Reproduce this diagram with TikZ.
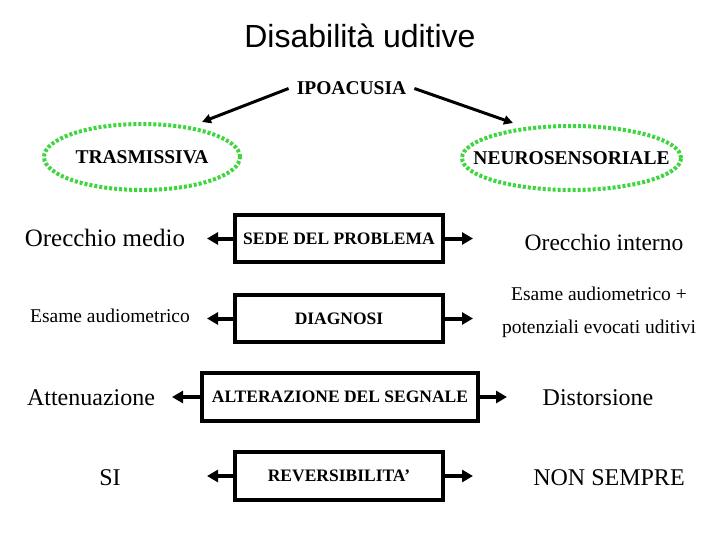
\documentclass[tikz,border=0pt]{standalone}
\usepackage{fontspec}
\setmainfont{Liberation Serif}
\newfontfamily\arialfont{Liberation Sans}
\usetikzlibrary{arrows.meta,shapes.geometric}
\definecolor{dotgreen}{RGB}{60,215,60}
\tikzset{
  box/.style={draw=black, line width=4pt, inner sep=0pt, font=\fontsize{17.5}{20}\selectfont\bfseries},
  oval/.style={ellipse, draw=dotgreen, line width=4pt, dash pattern=on 3pt off 2pt, inner sep=0pt},
  ovaltext/.style={inner sep=0pt, font=\fontsize{19.5}{22}\selectfont\bfseries},
  arr/.style={line width=4pt, -{Triangle[length=11pt,width=12pt]}},
  toparr/.style={line width=3pt, -{Triangle[length=9pt,width=9pt]}},
  big/.style={anchor=base, inner sep=0pt, font=\fontsize{24}{28}\selectfont},
  small/.style={anchor=base, inner sep=0pt, font=\fontsize{19.5}{22}\selectfont}
}
\begin{document}
\begin{tikzpicture}[x=1pt,y=-1pt]
\useasboundingbox (0,0) rectangle (720,540);
\fill[white] (0,0) rectangle (720,540);

% title
\node[anchor=base, inner sep=0pt, font=\arialfont\fontsize{32}{36}\selectfont] (title) at (360,48) {Disabilità uditive};

% top level
\node[inner sep=8pt, font=\fontsize{19.5}{22}\selectfont\bfseries] (ipo) at (351.5,88.5) {IPOACUSIA};
\node[oval, minimum width=196pt, minimum height=66pt] (tras) at (142,157) {};
\node[ovaltext] (trast) at (142,157) {TRASMISSIVA};
\node[oval, minimum width=219pt, minimum height=64pt] (neuro) at (571.5,158) {};
\node[ovaltext] (neurot) at (571.5,158) {NEUROSENSORIALE};
\coordinate (tl) at (202,122);
\coordinate (tr) at (513,123);
\draw[toparr] (ipo.west) -- (tl);
\draw[toparr] (ipo.east) -- (tr);

% boxes
\node[box, minimum width=208pt, minimum height=47pt] (b1) at (339,238.5) {SEDE DEL PROBLEMA};
\node[box, minimum width=208pt, minimum height=47pt] (b2) at (339,318.5) {DIAGNOSI};
\node[box, minimum width=276pt, minimum height=48pt] (b3) at (340,397) {ALTERAZIONE DEL SEGNALE};
\node[box, minimum width=208pt, minimum height=48pt] (b4) at (339,476) {REVERSIBILITA’};

% arrow end points
\coordinate (l1) at (207,238.5);
\coordinate (r1) at (473,238.5);
\coordinate (l2) at (207,318.5);
\coordinate (r2) at (473,318.5);
\coordinate (l3) at (172,397);
\coordinate (r3) at (507,397);
\coordinate (l4) at (207,476);
\coordinate (r4) at (473,476);
\draw[arr] (b1.west) -- (l1);
\draw[arr] (b1.east) -- (r1);
\draw[arr] (b2.west) -- (l2);
\draw[arr] (b2.east) -- (r2);
\draw[arr] (b3.west) -- (l3);
\draw[arr] (b3.east) -- (r3);
\draw[arr] (b4.west) -- (l4);
\draw[arr] (b4.east) -- (r4);

% left texts
\node[big, font=\fontsize{25}{28}\selectfont] (om) at (105,246) {Orecchio medio};
\node[small] (ea) at (110,322) {Esame audiometrico};
\node[big] (att) at (91,405) {Attenuazione};
\node[big] (si) at (110,485) {SI};

% right texts
\node[big, font=\fontsize{23.5}{28}\selectfont] (oi) at (604,251) {Orecchio interno};
\node[small] (ea2) at (599,300) {Esame audiometrico +};
\node[small] (pot) at (599,333) {potenziali evocati uditivi};
\node[big] (dis) at (598,405) {Distorsione};
\node[big] (ns) at (609,485) {NON SEMPRE};
\end{tikzpicture}
\end{document}
